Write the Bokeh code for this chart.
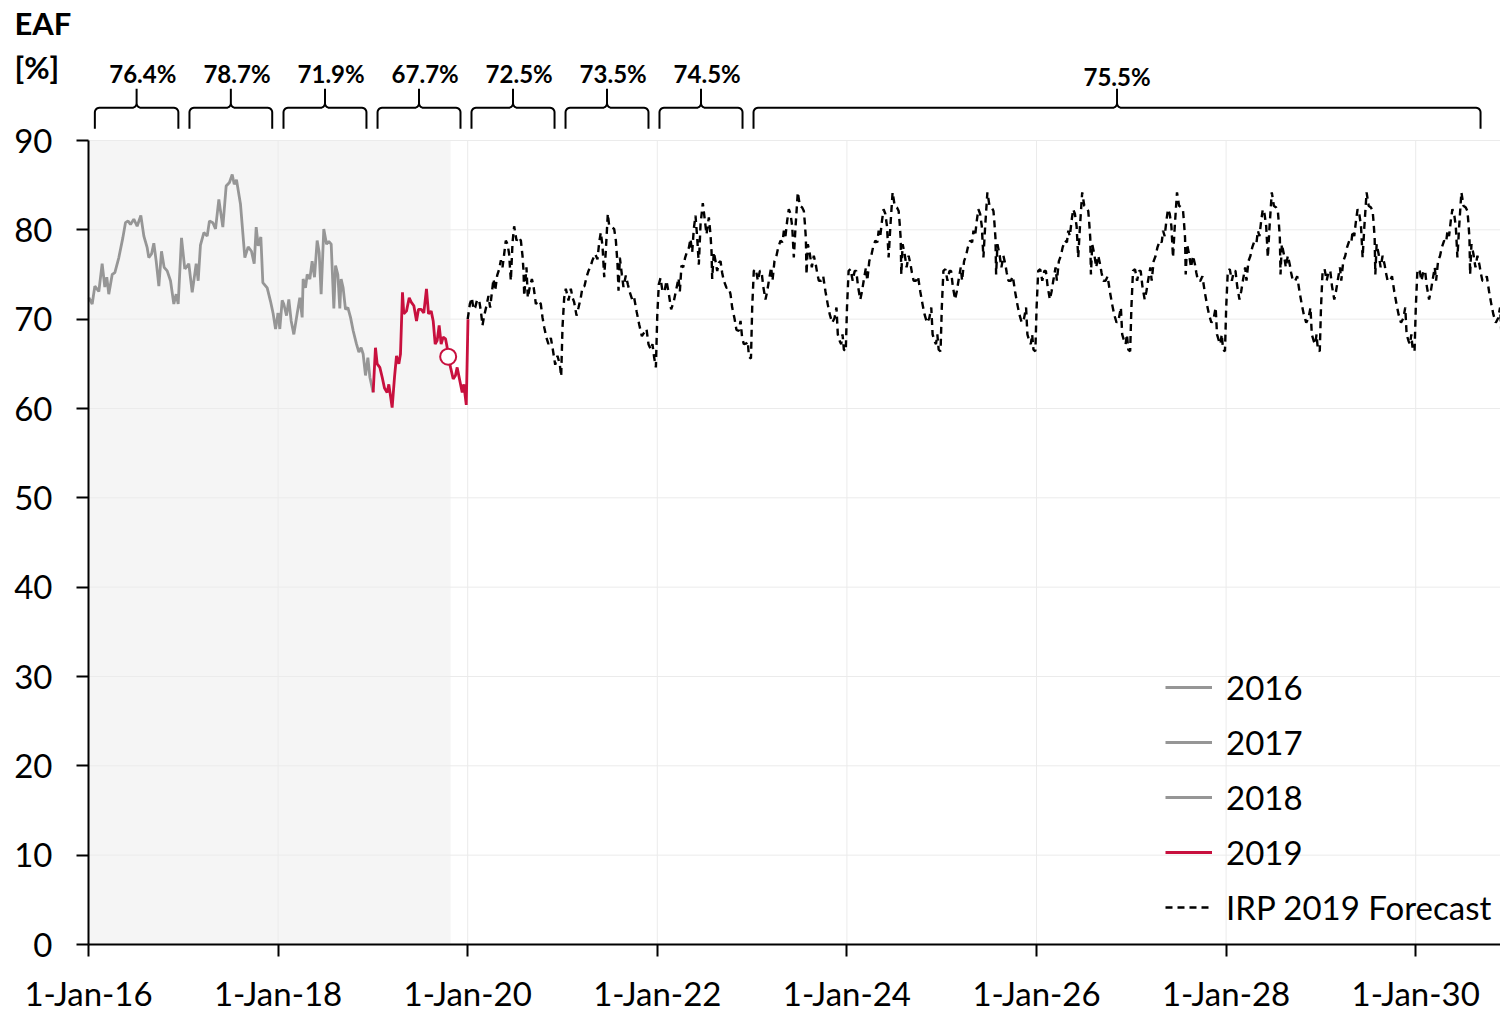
import numpy as np
from bokeh.plotting import figure
from bokeh.models import Range1d, FixedTicker, Legend, LegendItem
from bokeh.core.properties import value
from bokeh.embed import file_html
from bokeh.resources import INLINE

FONT = "Lato"
GRAY = "#969696"
RED = "#C8103E"

# ---------------- data (decimal years, EAF %) ----------------
x_2016 = [2016.004, 2016.039, 2016.067, 2016.109, 2016.144, 2016.172, 2016.193, 2016.214,
          2016.250, 2016.278, 2016.320, 2016.362, 2016.390, 2016.418, 2016.443, 2016.478,
          2016.513, 2016.552, 2016.584, 2016.619, 2016.636, 2016.665, 2016.689, 2016.714,
          2016.742, 2016.770, 2016.798, 2016.830, 2016.865, 2016.900, 2016.925, 2016.946,
          2016.981]
y_2016 = [72.4, 71.7, 73.7, 73.1, 76.2, 73.6, 74.7, 72.8, 75.0, 75.2, 76.9, 79.1, 80.8, 81.0,
          80.6, 81.2, 80.4, 81.6, 79.3, 78.0, 76.9, 77.3, 78.5, 76.5, 73.7, 77.6, 75.8, 75.4,
          74.3, 71.7, 72.8, 71.7, 79.1]

x_2017 = [2017.016, 2017.058, 2017.094, 2017.136, 2017.157, 2017.181, 2017.217, 2017.252,
          2017.276, 2017.312, 2017.340, 2017.375, 2017.417, 2017.452, 2017.487, 2017.516,
          2017.537, 2017.561, 2017.603, 2017.649, 2017.684, 2017.719, 2017.748, 2017.769,
          2017.790, 2017.818, 2017.839, 2017.885, 2017.920, 2017.948, 2017.973]
y_2017 = [75.6, 76.2, 73.0, 76.2, 74.3, 78.3, 79.7, 79.3, 81.0, 80.8, 80.1, 83.4, 80.3, 84.9,
          85.3, 86.2, 85.1, 85.6, 82.9, 76.9, 78.1, 77.6, 76.2, 80.3, 78.2, 79.2, 74.1, 73.5,
          72.0, 70.6, 68.9]

x_2018 = [2018.000, 2018.018, 2018.043, 2018.060, 2018.089, 2018.113, 2018.138, 2018.166,
          2018.201, 2018.229, 2018.254, 2018.264, 2018.289, 2018.307, 2018.335, 2018.359,
          2018.384, 2018.412, 2018.433, 2018.454, 2018.482, 2018.511, 2018.535, 2018.560,
          2018.588, 2018.606, 2018.630, 2018.651, 2018.665, 2018.686, 2018.711, 2018.736,
          2018.764, 2018.792, 2018.827, 2018.852, 2018.876, 2018.897, 2018.922, 2018.947,
          2018.968]
y_2018 = [70.7, 68.9, 72.1, 71.7, 70.4, 72.2, 69.8, 68.3, 70.6, 72.4, 70.2, 74.5, 73.5, 75.0,
          74.5, 76.5, 74.7, 78.8, 77.5, 72.8, 80.1, 78.4, 78.7, 78.4, 71.2, 76.0, 75.0, 71.2,
          74.5, 73.5, 71.1, 71.3, 70.2, 68.7, 67.2, 66.3, 66.8, 66.1, 63.7, 65.7, 63.5]

x_2019 = [2019.003, 2019.027, 2019.045, 2019.073, 2019.098, 2019.122, 2019.150, 2019.168,
          2019.203, 2019.228, 2019.249, 2019.274, 2019.291, 2019.312, 2019.326, 2019.354,
          2019.383, 2019.404, 2019.432, 2019.460, 2019.481, 2019.509, 2019.537, 2019.565,
          2019.587, 2019.615, 2019.636, 2019.657, 2019.678, 2019.699, 2019.720, 2019.741,
          2019.766, 2019.782, 2019.794, 2019.819, 2019.847, 2019.871, 2019.889, 2019.917,
          2019.942, 2019.959, 2019.985, 2020.003]
y_2019 = [61.8, 66.8, 65.0, 64.6, 63.5, 62.3, 61.8, 62.7, 60.1, 63.5, 65.9, 65.0, 66.1, 73.0,
          70.6, 70.9, 72.4, 71.9, 71.5, 69.8, 71.1, 71.1, 70.7, 73.4, 70.6, 70.9, 69.8, 67.2,
          67.6, 69.3, 67.2, 68.0, 67.8, 66.9, 65.8, 64.6, 63.3, 63.7, 64.6, 63.1, 61.8, 62.7,
          60.4, 70.0]

# latest actual observation (open marker)
latest_x = [2019.794]
latest_y = [65.8]
actuals_end = 2019.82   # end of the shaded "actuals" period

x_fc_2020 = [2020.000, 2020.023, 2020.044, 2020.061, 2020.079, 2020.100, 2020.121, 2020.139,
             2020.156, 2020.174, 2020.198, 2020.219, 2020.237, 2020.255, 2020.272, 2020.290,
             2020.311, 2020.332, 2020.350, 2020.367, 2020.385, 2020.402, 2020.420, 2020.437,
             2020.455, 2020.473, 2020.490, 2020.515, 2020.536, 2020.561, 2020.578, 2020.589,
             2020.596, 2020.620, 2020.634, 2020.655, 2020.677, 2020.694, 2020.719, 2020.747,
             2020.771, 2020.789, 2020.807, 2020.831, 2020.852, 2020.877, 2020.895, 2020.923,
             2020.947, 2020.972, 2020.986]
y_fc_2020 = [70.0, 71.7, 72.4, 71.1, 71.3, 72.2, 72.1, 70.9, 69.3, 70.4, 71.5, 72.6, 71.3,
             73.0, 74.5, 73.2, 74.9, 75.6, 76.6, 75.8, 77.3, 78.8, 78.4, 77.3, 74.3, 78.6,
             80.4, 78.8, 79.2, 78.8, 77.1, 75.4, 72.6, 75.8, 72.4, 73.6, 74.5, 73.7, 71.7,
             72.1, 71.7, 70.2, 69.1, 67.9, 67.2, 67.9, 66.8, 64.9, 65.9, 64.9, 63.6]

x_fc_2021 = [2021.000, 2021.018, 2021.035, 2021.063, 2021.088, 2021.106, 2021.123, 2021.148,
             2021.169, 2021.193, 2021.211, 2021.232, 2021.253, 2021.274, 2021.299, 2021.316,
             2021.345, 2021.369, 2021.387, 2021.404, 2021.422, 2021.440, 2021.457, 2021.478,
             2021.492, 2021.520, 2021.545, 2021.563, 2021.580, 2021.591, 2021.605, 2021.626,
             2021.643, 2021.668, 2021.689, 2021.710, 2021.738, 2021.756, 2021.781, 2021.809,
             2021.837, 2021.861, 2021.886, 2021.907, 2021.932, 2021.949, 2021.967, 2021.985]
y_fc_2021 = [69.1, 72.4, 73.4, 72.1, 73.4, 72.4, 71.9, 70.4, 71.3, 72.4, 73.6, 73.7, 74.7,
             75.4, 76.0, 76.6, 77.3, 76.7, 78.6, 79.7, 78.2, 74.7, 77.7, 81.8, 80.5, 80.3,
             80.1, 78.8, 76.2, 73.2, 76.9, 75.0, 73.6, 74.9, 73.9, 73.0, 72.1, 72.4, 70.9,
             69.4, 68.1, 68.5, 68.9, 67.2, 66.6, 67.2, 65.7, 64.6]

x_fc_2022 = [2022.000, 2022.016, 2022.034, 2022.055, 2022.076, 2022.097, 2022.122, 2022.146,
             2022.174, 2022.203, 2022.224, 2022.238, 2022.255, 2022.273, 2022.294, 2022.315,
             2022.333, 2022.350, 2022.368, 2022.385, 2022.403, 2022.421, 2022.438, 2022.456,
             2022.480, 2022.498, 2022.519, 2022.544, 2022.561, 2022.572, 2022.579, 2022.596,
             2022.614, 2022.632, 2022.649, 2022.667, 2022.684, 2022.702, 2022.730, 2022.755,
             2022.772, 2022.790, 2022.814, 2022.835, 2022.860, 2022.878, 2022.895, 2022.913,
             2022.941, 2022.955, 2022.966, 2022.988]
y_fc_2022 = [70.5, 73.9, 74.6, 73.1, 73.1, 74.3, 72.8, 71.1, 72.0, 73.5, 74.6, 73.1, 76.0,
             75.8, 76.9, 77.6, 78.0, 79.0, 77.5, 80.1, 81.6, 79.1, 76.1, 80.6, 83.0, 81.4,
             79.5, 81.4, 79.5, 77.6, 74.5, 77.5, 76.5, 75.4, 76.3, 76.5, 75.2, 74.3, 73.5,
             73.5, 72.8, 71.3, 70.1, 68.8, 68.7, 69.8, 67.9, 67.2, 67.3, 67.5, 65.8, 65.6]

# from 2023 onwards the forecast repeats the same annual profile (read from 2023)
fc_profile_years = [2023, 2024, 2025, 2026, 2027, 2028, 2029, 2030]
fc_profile_t = [0.001, 0.018, 0.039, 0.061, 0.082, 0.099, 0.117, 0.141, 0.159, 0.177, 0.201,
                0.215, 0.236, 0.257, 0.275, 0.300, 0.321, 0.335, 0.352, 0.370, 0.387, 0.405,
                0.423, 0.440, 0.458, 0.482, 0.504, 0.528, 0.546, 0.556, 0.567, 0.574, 0.588,
                0.609, 0.630, 0.651, 0.672, 0.686, 0.704, 0.729, 0.750, 0.774, 0.799, 0.820,
                0.845, 0.869, 0.890, 0.904, 0.926, 0.940, 0.954, 0.968, 0.988]
fc_profile_v = [71.3, 75.4, 75.6, 74.3, 75.4, 75.4, 73.7, 72.2, 73.1, 74.3, 75.8, 74.3, 76.5,
                77.1, 78.0, 78.8, 78.6, 79.9, 79.3, 81.0, 82.3, 81.8, 80.4, 76.9, 80.3, 84.2,
                82.7, 82.5, 82.1, 80.8, 79.1, 75.0, 78.4, 77.3, 75.8, 77.1, 76.1, 75.2, 74.3,
                74.3, 74.8, 73.1, 71.6, 70.5, 69.6, 70.1, 71.3, 68.3, 67.5, 67.2, 68.3, 66.6,
                66.4]

# annual average EAF annotations
period_start = [2016.067, 2017.065, 2018.057, 2019.049, 2020.040, 2021.032, 2022.023, 2023.015]
period_end = [2016.948, 2017.938, 2018.932, 2019.924, 2020.916, 2021.907, 2022.899, 2030.684]
period_labels = ["76.4%", "78.7%", "71.9%", "67.7%", "72.5%", "73.5%", "74.5%", "75.5%"]

x_tick_years = [2016, 2018, 2020, 2022, 2024, 2026, 2028, 2030]
x_tick_labels = ["1-Jan-16", "1-Jan-18", "1-Jan-20", "1-Jan-22",
                 "1-Jan-24", "1-Jan-26", "1-Jan-28", "1-Jan-30"]
y_ticks = [0, 10, 20, 30, 40, 50, 60, 70, 80, 90]

# ---------------- figure geometry ----------------
W, H = 1500, 1011
PX_PER_YEAR = 94.8
AXIS_PX = 88                      # screen x of the value axis
ZERO_PX = 944                     # screen y of value 0
PX_PER_UNIT = (944 - 140) / 90.0
X_AXIS = 2016.0
X0 = X_AXIS - AXIS_PX / PX_PER_YEAR
X1 = X0 + W / PX_PER_YEAR


def sy(py):
    """screen row -> value"""
    return (ZERO_PX - py) / PX_PER_UNIT


p = figure(width=W, height=H, x_range=Range1d(X0, X1), y_range=Range1d(sy(H), sy(0)),
           output_backend="svg", toolbar_location=None,
           min_border_left=0, min_border_right=0, min_border_top=0, min_border_bottom=0)
p.outline_line_color = None
p.xgrid.visible = False
p.ygrid.visible = False
p.background_fill_color = "white"
p.border_fill_color = "white"

# shaded actuals region
p.quad(left=[X_AXIS], right=[actuals_end], bottom=[0], top=[y_ticks[-1]],
       fill_color="#f5f5f5", line_color=None)

# grid lines (limited to 0..90)
p.segment(x0=[X_AXIS] * (len(y_ticks) - 1), x1=[X1] * (len(y_ticks) - 1),
          y0=y_ticks[1:], y1=y_ticks[1:], line_color="#ebebeb", line_width=1)
p.segment(x0=x_tick_years[1:], x1=x_tick_years[1:], y0=[0] * (len(x_tick_years) - 1),
          y1=[y_ticks[-1]] * (len(x_tick_years) - 1), line_color="#ebebeb", line_width=1)

# history series (each joined to the next year's first point)
r16 = p.line(x_2016 + x_2017[:1], y_2016 + y_2017[:1], line_color=GRAY, line_width=2.8)
r17 = p.line(x_2017 + x_2018[:1], y_2017 + y_2018[:1], line_color=GRAY, line_width=2.8)
r18 = p.line(x_2018 + x_2019[:1], y_2018 + y_2019[:1], line_color=GRAY, line_width=2.8)

fc_x = list(x_fc_2020) + list(x_fc_2021) + list(x_fc_2022)
fc_y = list(y_fc_2020) + list(y_fc_2021) + list(y_fc_2022)
for yr in fc_profile_years:
    fc_x += [yr + t for t in fc_profile_t]
    fc_y += list(fc_profile_v)
rfc = p.line(fc_x, fc_y, line_color="black", line_width=2.4, line_dash="7 5")

r19 = p.line(x_2019, y_2019, line_color=RED, line_width=2.8)
p.scatter(latest_x, latest_y, marker="circle", size=16, fill_color="white",
          line_color=RED, line_width=2)

# braces above the chart
Y_LINE = sy(107.3)
Y_END = sy(128.3)
Y_STEM = sy(88.3)
RX = 4.5 / PX_PER_YEAR
RY = 4.5 / PX_PER_UNIT


def arc(cx, cy, a0, a1, n=7):
    a = np.radians(np.linspace(a0, a1, n))
    return list(cx + RX * np.cos(a)), list(cy + RY * np.sin(a))


xs, ys = [], []
for s, e in zip(period_start, period_end):
    c = (s + e) / 2
    bx, by = [s], [Y_END]
    ax_, ay_ = arc(s + RX, Y_LINE - RY, 180, 90); bx += ax_; by += ay_
    ax_, ay_ = arc(c - RX, Y_LINE + RY, 270, 360); bx += ax_; by += ay_
    bx += [c]; by += [Y_STEM]
    ax_, ay_ = arc(c + RX, Y_LINE + RY, 180, 270); bx += ax_; by += ay_
    ax_, ay_ = arc(e - RX, Y_LINE - RY, 90, 0); bx += ax_; by += ay_
    bx += [e]; by += [Y_END]
    xs.append(bx); ys.append(by)
p.multi_line(xs, ys, line_color="black", line_width=2)

lab_x = [(s + e) / 2 + (0.065 if i < len(period_start) - 1 else 0.0)
         for i, (s, e) in enumerate(zip(period_start, period_end))]
lab_y = [sy(73)] * (len(period_start) - 1) + [sy(76.3)]
p.text(x=lab_x, y=lab_y, text=period_labels, text_font=value(FONT), text_font_style="bold",
       text_font_size="24px", text_align="center", text_baseline="middle",
       text_color="black")

# value-axis title (two lines, top-left)
title_x = X_AXIS - 74 / PX_PER_YEAR
p.text(x=[title_x, title_x], y=[sy(22.5), sy(66)], text=["EAF", "[%]"],
       text_font=value(FONT), text_font_style="bold", text_font_size="31px",
       text_align="left", text_baseline="middle", text_color="black")

# axes (drawn at fixed data locations: x = 1-Jan-16, y = 0)
for ax in (p.xaxis[0], p.yaxis[0]):
    ax.axis_line_color = "black"
    ax.axis_line_width = 2
    ax.major_tick_line_color = "black"
    ax.major_tick_line_width = 2
    ax.major_tick_out = 12
    ax.major_tick_in = 0
    ax.minor_tick_line_color = None
    ax.major_label_text_font = FONT
    ax.major_label_text_font_size = "33px"
    ax.major_label_text_color = "black"

p.yaxis.ticker = FixedTicker(ticks=y_ticks)
p.yaxis.bounds = (0, 90)
p.yaxis.fixed_location = X_AXIS
p.yaxis.major_label_standoff = 24
p.xaxis.ticker = FixedTicker(ticks=x_tick_years)
p.xaxis.bounds = (X_AXIS, X1)
p.xaxis.fixed_location = 0
p.xaxis.major_label_overrides = {t: l for t, l in zip(x_tick_years, x_tick_labels)}
p.xaxis.major_label_standoff = 16

legend = Legend(items=[
    LegendItem(label="2016", renderers=[r16]),
    LegendItem(label="2017", renderers=[r17]),
    LegendItem(label="2018", renderers=[r18]),
    LegendItem(label="2019", renderers=[r19]),
    LegendItem(label="IRP 2019 Forecast", renderers=[rfc]),
], location=(1165, H - 933))
legend.glyph_width = 47
legend.glyph_height = 52
legend.label_height = 52
legend.spacing = 3
legend.padding = 0
legend.margin = 0
legend.label_standoff = 14
legend.border_line_color = None
legend.background_fill_alpha = 0
legend.label_text_font = FONT
legend.label_text_font_size = "33px"
legend.label_text_color = "black"
p.add_layout(legend)

open("out.html", "w").write(file_html(p, INLINE))
